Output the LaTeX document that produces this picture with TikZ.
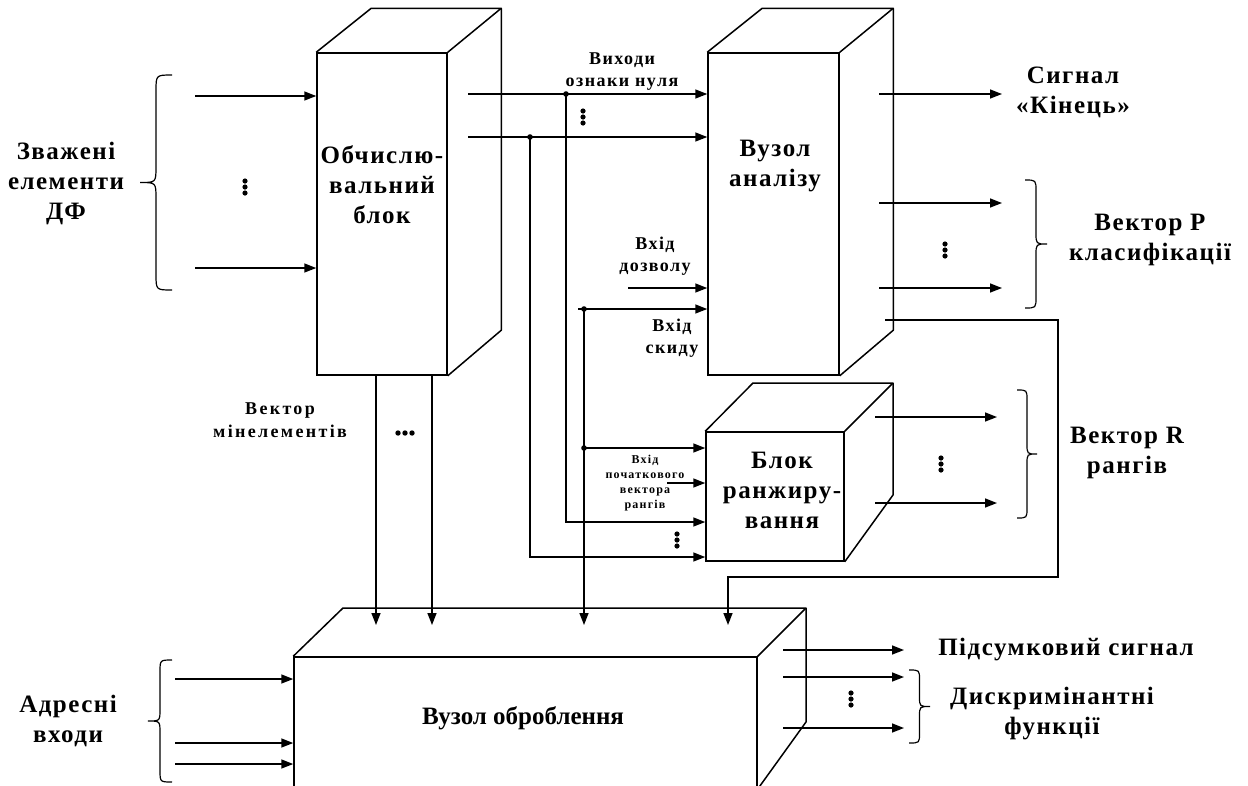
\documentclass[tikz,border=0pt]{standalone}
\usepackage{fontspec}
\setmainfont{Liberation Serif}
\usetikzlibrary{arrows.meta,calc}
\tikzset{
 box/.style={draw,line width=1.5pt,fill=none,inner sep=0pt},
 ln/.style={line width=1.5pt,line join=round},
 arr/.style={line width=1.5pt,-{Triangle[length=12pt,width=9pt]}},
 big/.style={font=\fontsize{25}{30}\selectfont\bfseries\addfontfeature{LetterSpace=6},align=center,inner sep=0pt},
 mid/.style={font=\fontsize{18}{22}\selectfont\bfseries\addfontfeature{LetterSpace=8},align=center,inner sep=0pt},
 sml/.style={font=\fontsize{12}{15}\selectfont\bfseries\addfontfeature{LetterSpace=10},align=center,inner sep=0pt},
 brc/.style={line width=1.2pt},
}
\newcommand{\VDots}[2]{\foreach \k in {-6,0,6}{\fill (#1,{#2+\k}) circle (2.6pt);}}
\newcommand{\HDots}[2]{\foreach \k in {-7,0,7}{\fill ({#1+\k},#2) circle (2.7pt);}}
\newcommand{\Brace}[5]{\draw[brc] (#1,#3) .. controls ({(#1+#2)/2},#3) .. ({(#1+#2)/2},{#3+#5}) -- ({(#1+#2)/2},{(#3+#4)/2-#5}) .. controls ({(#1+#2)/2},{(#3+#4)/2}) .. (#2,{(#3+#4)/2}) .. controls ({(#1+#2)/2},{(#3+#4)/2}) .. ({(#1+#2)/2},{(#3+#4)/2+#5}) -- ({(#1+#2)/2},{#4-#5}) .. controls ({(#1+#2)/2},#4) .. (#1,#4);}
\begin{document}
\begin{tikzpicture}[x=1pt,y=-1pt]
\useasboundingbox (0,0) rectangle (1248,785);
\clip (0,0) rectangle (1248,785);

% ---- Обчислювальний блок
\node[box,minimum width=130pt,minimum height=322pt] (b1) at (382,214) {};
\draw[ln] (b1.north west) -- ++(55,-44) -- ++(130,0) coordinate (b1bk) -- (b1.north east);
\draw[ln] (b1bk) -- ++(0,322) -- (b1.south east);
\node[big] (b1t) at (382,185) {Обчислю-\\вальний\\блок};

% ---- Вузол аналізу
\node[box,minimum width=131pt,minimum height=322pt] (an) at (773.5,214) {};
\draw[ln] (an.north west) -- ++(55,-44) -- ++(131,0) coordinate (anbk) -- (an.north east);
\draw[ln] (anbk) -- ++(0,322) -- (an.south east);
\node[big] (ant) at (775,166) {Вузол\\аналізу};

% ---- Блок ранжування
\node[box,minimum width=138pt,minimum height=129pt] (rk) at (775,496.5) {};
\coordinate (rkb1) at (753,383); \coordinate (rkb2) at (893,383); \coordinate (rkb3) at (893,495);
\draw[ln] (rk.north west) -- (rkb1) -- (rkb2) -- (rk.north east);
\draw[ln] (rkb2) -- (rkb3) -- (rk.south east);
\node[big] (rkt) at (782,490) {Блок\\ранжиру-\\вання};

% ---- Вузол оброблення
\node[box,minimum width=463pt,minimum height=143pt] (ob) at (525.5,728.5) {};
\coordinate (obb1) at (343,608); \coordinate (obb2) at (806,608); \coordinate (obb3) at (806,722); \coordinate (obb4) at (757,790);
\draw[ln] (ob.north west) -- (obb1) -- (obb2) -- (ob.north east);
\draw[ln] (obb2) -- (obb3) -- (obb4);
\node[big,font=\fontsize{25}{30}\selectfont\bfseries] (obt) at (523,718) {Вузол оброблення};

% ---- inputs to b1
\coordinate (z1) at (195,96); \coordinate (z2) at (195,268);
\draw[arr] (z1) -- (z1 -| b1.west);
\draw[arr] (z2) -- (z2 -| b1.west);
\Brace{172}{140}{75}{290}{16}
\VDots{245}{187}
\node[big] (zl) at (66,183) {Зважені\\елементи\\ДФ};

% ---- b1 outputs to an
\coordinate (q1) at (468,94); \coordinate (q2) at (468,137);
\draw[arr] (q1) -- (q1 -| an.west);
\draw[arr] (q2) -- (q2 -| an.west);
\VDots{583}{117}
\node[mid] (vx) at (622,72) {Виходи\\ознаки нуля};

% junctions going to rk
\coordinate (j1) at (566,94); \coordinate (j2) at (530,137);
\coordinate (k1) at (0,522); \coordinate (k2) at (0,557);
\draw[arr] (j1) |- (rk.west |- k1);
\draw[arr] (j2) |- (rk.west |- k2);
\fill (j1) circle (2.8pt); \fill (j2) circle (2.8pt);

% enable and reset
\coordinate (e0) at (628,288);
\draw[arr] (e0) -- (e0 -| an.west);
\node[mid] (ed) at (655,256) {Вхід\\дозволу};
\coordinate (s0) at (578,309); \coordinate (j3) at (584,309);
\draw[arr] (s0) -- (s0 -| an.west);
\node[mid] (sk) at (672,338) {Вхід\\скиду};
\coordinate (t3) at (584,625);
\draw[arr] (j3) -- (t3);
\coordinate (j4) at (584,448);
\draw[arr] (j4) -- (j4 -| rk.west);
\fill (j3) circle (2.8pt); \fill (j4) circle (2.8pt);

% initial rank vector
\coordinate (p0) at (667,483);
\draw[arr] (p0) -- (p0 -| rk.west);
\node[sml] (pv) at (645,483) {Вхід\\початкового\\вектора\\рангів};
\VDots{677}{540}

% ---- an outputs
\coordinate (a1) at (879,94); \coordinate (a1e) at (1002,94);
\coordinate (a2) at (879,203); \coordinate (a2e) at (1002,203);
\coordinate (a3) at (879,288); \coordinate (a3e) at (1002,288);
\draw[arr] (a1) -- (a1e);
\draw[arr] (a2) -- (a2e);
\draw[arr] (a3) -- (a3e);
\VDots{945}{250}
\Brace{1025}{1047}{180}{308}{11}
\node[big] (sg) at (1073,92) {Сигнал\\«Кінець»};
\node[big] (vp) at (1150,240) {Вектор Р\\класифікації};

% feedback line
\coordinate (f0) at (885,320); \coordinate (f1) at (1058,320); \coordinate (f2) at (1058,577);
\coordinate (f3) at (728,577); \coordinate (f4) at (728,625);
\draw[arr] (f0) -- (f1) -- (f2) -- (f3) -- (f4);

% ---- rk outputs
\coordinate (r1) at (875,417); \coordinate (r1e) at (997,417);
\coordinate (r2) at (875,503); \coordinate (r2e) at (997,503);
\draw[arr] (r1) -- (r1e);
\draw[arr] (r2) -- (r2e);
\VDots{941}{464}
\Brace{1017}{1037}{390}{518}{10}
\node[big] (vr) at (1127,453) {Вектор R\\рангів};

% ---- b1 down to ob
\coordinate (d1) at (376,375); \coordinate (d1e) at (376,625);
\coordinate (d2) at (432,375); \coordinate (d2e) at (432,625);
\draw[arr] (d1) -- (d1e);
\draw[arr] (d2) -- (d2e);
\HDots{405}{433}
\node[mid,font=\fontsize{18}{23}\selectfont\bfseries\addfontfeature{LetterSpace=13}] (vm) at (280,420) {Вектор\\мінелементів};

% ---- ob inputs
\coordinate (w1) at (175,679); \coordinate (w2) at (175,743); \coordinate (w3) at (175,764);
\draw[arr] (w1) -- (w1 -| ob.west);
\draw[arr] (w2) -- (w2 -| ob.west);
\draw[arr] (w3) -- (w3 -| ob.west);
\Brace{172}{148}{660}{782}{12}
\node[big] (ad) at (68,721) {Адресні\\входи};

% ---- ob outputs
\coordinate (u1) at (783,650); \coordinate (u1e) at (904,650);
\coordinate (u2) at (783,677); \coordinate (u2e) at (904,677);
\coordinate (u3) at (783,728); \coordinate (u3e) at (904,728);
\draw[arr] (u1) -- (u1e);
\draw[arr] (u2) -- (u2e);
\draw[arr] (u3) -- (u3e);
\VDots{851}{699}
\Brace{909}{930}{670}{743}{10}
\node[big] (ps) at (1066,650) {Підсумковий сигнал};
\node[big] (df) at (1052,714) {Дискримінантні\\функції};
\end{tikzpicture}
\end{document}
